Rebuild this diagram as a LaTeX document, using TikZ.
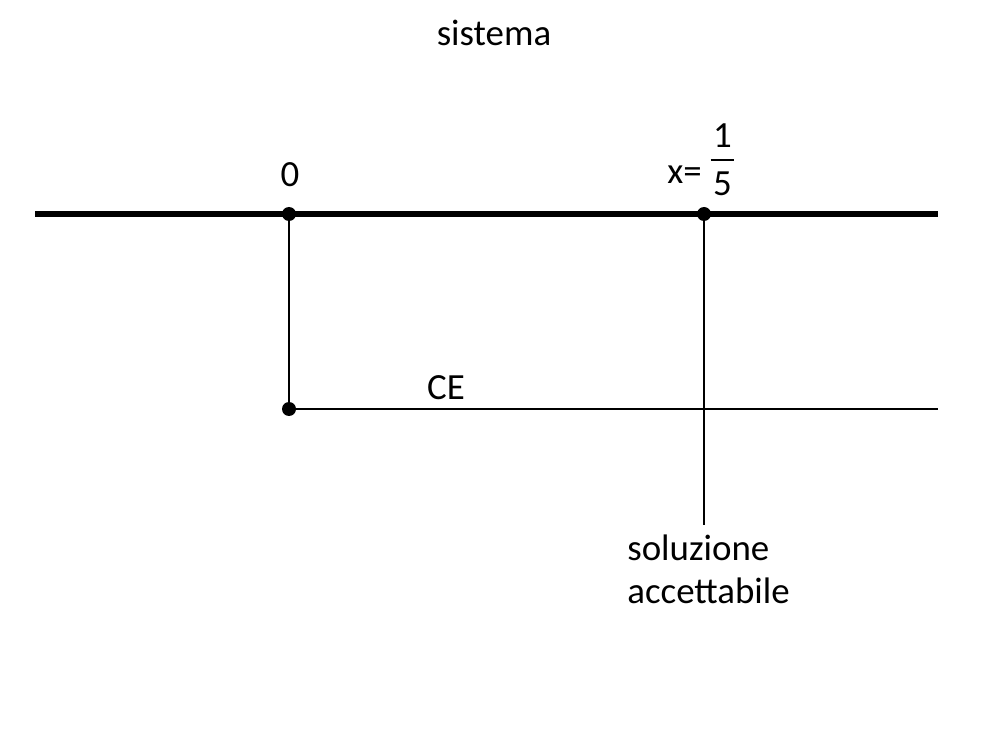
\documentclass[tikz,border=0pt]{standalone}
\usepackage{fontspec}
\setmainfont{Carlito}
% fraction set in the text font
\newcommand{\txtfrac}[2]{\vbox{\halign{\kern1.5pt\hfil##\hfil\kern1.5pt\cr #1\cr\noalign{\kern6.4pt\hrule height 1pt\kern6.4pt}#2\cr}}}
\begin{document}
\begin{tikzpicture}[font=\fontsize{21}{25}\selectfont]
%width=20cm
%height=15cm
\useasboundingbox (0,0) rectangle (20,15);
% coordinates
\coordinate (xL)  at ( 0.70, 10.72);
\coordinate (xR)  at (18.76, 10.72);
\coordinate (xO)  at ( 5.78, 10.72);
\coordinate (xS)  at (14.08, 10.72);
\coordinate (xC)  at ( 5.78,  6.82);
\coordinate (xCR) at (18.76,  6.82);
\coordinate (xSB) at (14.08,  4.50);
% labels
\node (title) at (9.88, 14.34) {sistema};
\node[anchor=base,inner sep=0pt] (zero) at (5.80, 11.26) {0};
\node[anchor=base,inner sep=0pt] (xeq) at (13.69, 11.32) {x=};
\node[inner sep=0pt] (frac) at (14.45, 11.80) {\txtfrac{1}{5}};
\node[anchor=base,inner sep=0pt] (ce) at (8.92, 7.00) {CE};
\node[anchor=base west,inner sep=0pt] (sol) at (12.54, 3.80) {soluzione};
\node[anchor=base west,inner sep=0pt] (acc) at (12.54, 2.94) {accettabile};
% lines
\draw[line width=1.2pt,black] (xO) -- (xC);
\draw[line width=1.2pt,black] (xC) -- (xCR);
\draw[line width=1.2pt,black] (xS) -- (xSB);
\draw[line width=3pt,black] (xL) -- (xR);
\fill[black] (xO) circle (0.14);
\fill[black] (xS) circle (0.14);
\fill[black] (xC) circle (0.14);
\end{tikzpicture}
\end{document}
